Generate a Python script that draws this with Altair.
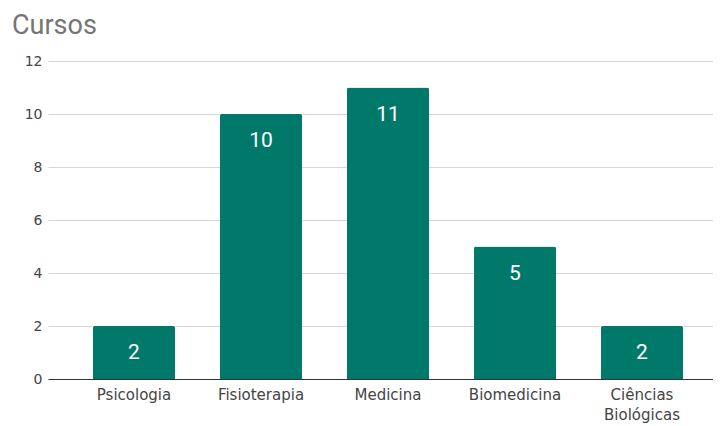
import altair as alt
import pandas as pd

cursos = ["Psicologia", "Fisioterapia", "Medicina", "Biomedicina", "Ciências Biológicas"]
valores = [2, 10, 11, 5, 2]

df = pd.DataFrame({"curso": cursos, "valor": valores})

label_expr = "datum.label == 'Ciências Biológicas' ? ['Ciências', 'Biológicas'] : datum.label"

x = alt.X(
    "curso:N",
    sort=cursos,
    title=None,
    scale=alt.Scale(paddingInner=0.354, paddingOuter=0.295, align=0.6),
    axis=alt.Axis(
        labelAngle=0,
        labelExpr=label_expr,
        labelFont="DejaVu Sans",
        labelFontSize=15,
        labelColor="#444444",
        labelPadding=8,
        labelLineHeight=20,
        ticks=False,
        domain=True,
        domainColor="#333333",
        domainWidth=1,
        grid=False,
    ),
)
y = alt.Y(
    "valor:Q",
    title=None,
    scale=alt.Scale(domain=[0, 12], nice=False),
    axis=alt.Axis(
        values=[0, 2, 4, 6, 8, 10, 12],
        labelFont="DejaVu Sans",
        labelFontSize=14,
        labelColor="#444444",
        labelPadding=6,
        ticks=False,
        domain=False,
        grid=True,
        gridColor="#d6d6d6",
        gridWidth=1,
    ),
)

bars = alt.Chart(df).mark_bar(color="#00796b", cornerRadiusTopLeft=2, cornerRadiusTopRight=2).encode(x=x, y=y)
text = alt.Chart(df).mark_text(
    color="#ffffff", font="Roboto", fontSize=21, baseline="middle", dy=27
).encode(x=alt.X("curso:N", sort=cursos), y=alt.Y("valor:Q"), text="valor:Q")

chart = (
    alt.layer(bars, text)
    .properties(
        width=665,
        height=318,
        autosize=alt.AutoSizeParams(type="none"),
        padding={"left": 40, "top": 53, "right": 0, "bottom": 47},
        title=alt.TitleParams(
            "Cursos",
            anchor="start",
            frame="group",
            font="Roboto",
            fontSize=27,
            fontWeight="normal",
            color="#757575",
            dx=-36,
            offset=14,
        ),
    )
    .configure_view(stroke=None)
)

chart.save("out.html", embed_options={"renderer": "svg", "actions": False})
